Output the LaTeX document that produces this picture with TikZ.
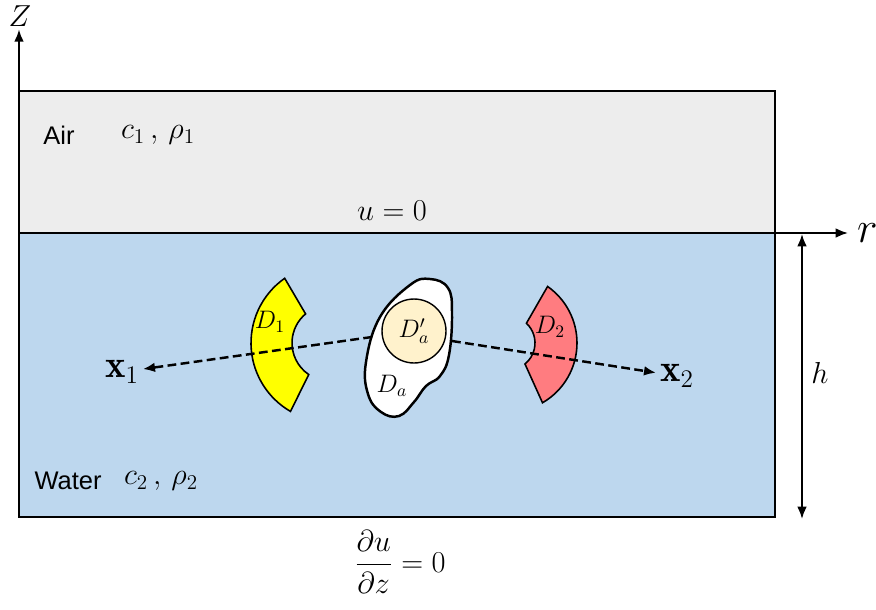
\documentclass[tikz,border=0pt]{standalone}
\usepackage{fontspec}
\setsansfont{Liberation Sans}
\usetikzlibrary{arrows.meta}
\definecolor{aire}{HTML}{EDEDED}
\definecolor{agua}{HTML}{BDD7EE}
\definecolor{amarillo}{HTML}{FFFF00}
\definecolor{rosa}{HTML}{FF7C80}
\definecolor{crema}{HTML}{FFF2CC}

\begin{document}
\begin{tikzpicture}[x=0.02cm, y=0.02cm,
        capa/.style={draw, line width=1.4pt, inner sep=0pt, outer sep=0pt, anchor=north west, minimum width=15.12cm},
        eje/.style={line width=1.1pt, -{Latex[length=7pt,width=5.5pt]}},
        cota/.style={line width=1.1pt, {Latex[length=7pt,width=5.5pt]}-{Latex[length=7pt,width=5.5pt]}},
        rayo/.style={line width=1.4pt, dash pattern=on 5pt off 2.5pt, -{Latex[length=7pt,width=5.5pt]}},
        region/.style={draw, line width=0.9pt},
        txt/.style={font=\fontsize{17}{20}\selectfont},
        rot/.style={font=\sffamily\fontsize{14.5}{17}\selectfont},
        etq/.style={font=\fontsize{14}{17}\selectfont},
        vec/.style={font=\fontsize{22}{26}\selectfont, inner sep=2pt}]
        \useasboundingbox (0,0) rectangle (876,-609);

        % Capas
        \node[capa, fill=aire, minimum height=2.84cm] (aire) at (19,-91) {};
        \node[capa, fill=agua, minimum height=5.68cm] (agua) at (19,-233) {};

        % Ejes
        \node[font=\fontsize{19}{23}\selectfont, inner sep=1.5pt] (zlab) at (20,-16) {$Z$};
        \draw[eje] (aire.north west) -- (zlab.south -| aire.north west);
        \coordinate (rtip) at (848,-233);
        \node[font=\fontsize{27}{31}\selectfont, right, inner sep=5pt] (rlab) at (rtip) {$r$};
        \draw[eje] (agua.north east) -- (rtip);

        % Profundidad h
        \coordinate (hsup) at (802,-234);
        \coordinate (hinf) at (802,-519);
        \draw[cota] (hsup) -- (hinf);
        \node[font=\fontsize{17}{20}\selectfont] (hlab) at (820,-373) {$h$};

        % Textos de las capas
        \node[rot] (air) at (59,-135) {Air};
        \node[txt] (prop1) at (158,-135) {$c_1\,,\,\rho_1$};
        \node[font=\fontsize{16}{19}\selectfont] (cond1) at (392,-211) {$u=0$};
        \node[rot] (water) at (68,-481) {Water};
        \node[txt] (prop2) at (161,-481) {$c_2\,,\,\rho_2$};
        \node[font=\fontsize{16}{19}\selectfont] (cond2) at (400,-562) {$\displaystyle\frac{\partial u}{\partial z}=0$};

        % Regiones D1 y D2
        \coordinate (c1) at (330,-343);
        \filldraw[region, fill=amarillo] ([shift={(125:79)}]c1) arc[start angle=125, end angle=240, radius=79]
            -- ([shift={(236:38)}]c1) arc[start angle=236, end angle=130, radius=38] -- cycle;
        \coordinate (c2) at (508,-343);
        \filldraw[region, fill=rosa] ([shift={(-60:69)}]c2) arc[start angle=-60, end angle=55, radius=69]
            -- ([shift={(47:27)}]c2) arc[start angle=47, end angle=-51, radius=27] -- cycle;

        % Obstaculo Da
        \filldraw[region, line width=1.4pt, fill=white] plot[smooth cycle, tension=0.7] coordinates {
            (380,-317) (410,-285) (430,-279) (448,-288) (452,-313) (449,-355) (440,-376)
            (426,-386) (414,-402) (399,-416) (381,-412) (368,-394) (366,-362)};
        \node[draw, circle, fill=crema, line width=0.8pt, minimum size=1.28cm, inner sep=0pt, etq] (dap) at (414,-331) {$D'_a$};

        % Etiquetas
        \node[etq] (d1) at (270,-322) {$D_1$};
        \node[etq] (d2) at (550,-327) {$D_2$};
        \node[etq] (da) at (392,-386) {$D_a$};

        % Puntos de observacion
        \node[vec] (x1) at (122,-372) {$\mathbf{x}_1$};
        \node[vec] (x2) at (677,-376) {$\mathbf{x}_2$};
        \coordinate (pa) at (372,-337);
        \coordinate (pb) at (452,-341);
        \draw[rayo] (pa) -- (x1);
        \draw[rayo] (pb) -- (x2);
    \end{tikzpicture}
\end{document}
